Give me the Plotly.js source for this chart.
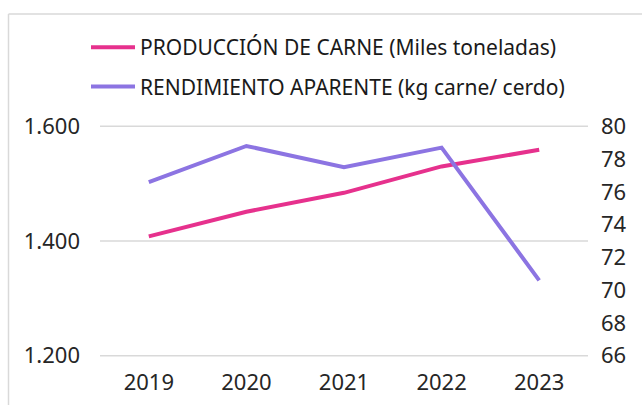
<!DOCTYPE html>
<html><head><meta charset="utf-8">
<script src="https://cdn.plot.ly/plotly-3.0.1.min.js"></script>
<style>html,body{margin:0;padding:0;background:#fff}#c{width:642px;height:405px}</style>
</head><body><div id="c"></div>
<script>
const years = ['2019','2020','2021','2022','2023'];
const produccion = [1408, 1451, 1484, 1530, 1559];
const rendimiento = [76.6, 78.8, 77.5, 78.7, 70.6];
const leftTicks = [1200, 1400, 1600];
const rightTicks = [66, 68, 70, 72, 74, 76, 78, 80];

const L = 100, R = 54, T = 124, B = 47, W = 642, H = 405;
const pw = W - L - R, ph = H - T - B;
const px = v => (v - L) / pw, py = v => (H - B - v) / ph;
const pad = 0.01;

const fontFam = '"Noto Sans", sans-serif';
const data = [
  {x: years, y: produccion, type: 'scatter', mode: 'lines', name: 'PRODUCCIÓN DE CARNE (Miles toneladas)',
   line: {color: '#E6318D', width: 4}, legendgroup: 'a', yaxis: 'y'},
  {x: years, y: rendimiento, type: 'scatter', mode: 'lines', name: 'RENDIMIENTO APARENTE (kg carne/ cerdo)',
   line: {color: '#8C74E2', width: 4}, legendgroup: 'b', yaxis: 'y2'}
];
const lr = [1200, 1600], rr = [66, 80];
const gridShapes = leftTicks.map(v => ({type: 'line', xref: 'paper', yref: 'y', x0: 0, x1: 1, y0: v, y1: v,
  line: {color: '#D9D9D9', width: 1.5}, layer: 'below'}));
const layout = {
  width: W, height: H, margin: {l: L, r: R, t: T, b: B},
  paper_bgcolor: '#fff', plot_bgcolor: '#fff',
  separators: ',.',
  font: {family: fontFam, size: 22, color: '#262626'},
  showlegend: true,
  legend: {x: px(86), y: py(27), xanchor: 'left', yanchor: 'top', orientation: 'v',
           tracegroupgap: 9, itemwidth: 44, font: {size: 21, color: '#1a1a1a'}, bgcolor: 'rgba(0,0,0,0)'},
  xaxis: {type: 'category', range: [-0.5, 4.5], showgrid: false, zeroline: false, showline: false, ticks: '',
          ticklabelstandoff: 9, tickfont: {size: 22, color: '#262626'}, fixedrange: true},
  yaxis: {range: [lr[0] - (lr[1]-lr[0])*pad, lr[1] + (lr[1]-lr[0])*pad], tickvals: leftTicks, tickformat: ',d', showgrid: false,
          zeroline: false, showline: false, ticks: '',
          ticklabelstandoff: 19, tickfont: {size: 22, color: '#262626'}},
  yaxis2: {range: [rr[0] - (rr[1]-rr[0])*pad, rr[1] + (rr[1]-rr[0])*pad], tickvals: rightTicks, overlaying: 'y', side: 'right', showgrid: false,
           zeroline: false, showline: false, ticks: '', ticklabelstandoff: 12,
           tickfont: {size: 22, color: '#262626'}},
  shapes: gridShapes.concat([
    {type: 'line', xref: 'paper', yref: 'paper', x0: px(8.5), x1: px(8.5), y0: py(14), y1: py(405), line: {color: '#D9D9D9', width: 1.5}},
    {type: 'line', xref: 'paper', yref: 'paper', x0: px(8.5), x1: px(642), y0: py(14), y1: py(14), line: {color: '#D9D9D9', width: 1.5}}
  ])
};
Plotly.newPlot('c', data, layout, {displayModeBar: false, staticPlot: true});
</script></body></html>
